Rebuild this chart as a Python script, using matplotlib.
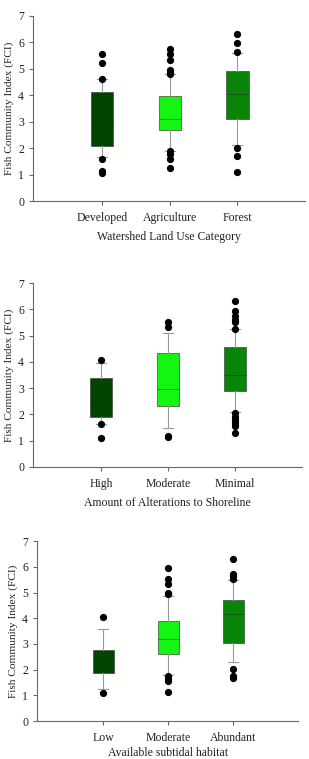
import matplotlib.pyplot as plt

plt.rcParams['font.family'] = ['Liberation Serif', 'DejaVu Serif']

# panel 1: watershed land use
land_cats = ['Developed', 'Agriculture', 'Forest']
land_q1 = [2.09, 2.69, 3.11]
land_med = [3.03, 3.10, 4.05]
land_q3 = [4.14, 3.96, 4.92]
land_wlo = [1.66, 1.90, 2.14]
land_whi = [4.60, 4.80, 5.59]
land_fliers = [
    [5.55, 5.21, 4.60, 1.58, 1.13, 1.07],
    [5.74, 5.55, 5.33, 4.96, 4.86, 4.79, 1.90, 1.78, 1.61, 1.26],
    [6.32, 5.96, 5.62, 1.99, 1.70, 1.11],
]

# panel 2: shoreline alterations
shore_cats = ['High', 'Moderate', 'Minimal']
shore_q1 = [1.91, 2.32, 2.89]
shore_med = [2.35, 2.98, 3.50]
shore_q3 = [3.37, 4.33, 4.58]
shore_wlo = [1.63, 1.46, 2.09]
shore_whi = [3.94, 5.09, 5.25]
shore_fliers = [
    [4.07, 1.62, 1.10],
    [5.53, 5.32, 1.15, 1.18],
    [6.30, 5.95, 5.73, 5.60, 5.50, 5.25, 2.04, 1.91, 1.78, 1.65, 1.56, 1.30],
]

# panel 3: subtidal habitat
hab_cats = ['Low', 'Moderate', 'Abundant']
hab_q1 = [1.88, 2.59, 3.02]
hab_med = [2.40, 3.18, 4.15]
hab_q3 = [2.75, 3.89, 4.70]
hab_wlo = [1.26, 1.78, 2.30]
hab_whi = [3.59, 4.86, 5.47]
hab_fliers = [
    [4.06, 1.08],
    [5.97, 5.54, 5.32, 4.99, 4.93, 1.75, 1.62, 1.56, 1.13],
    [6.32, 5.73, 5.64, 5.51, 2.04, 1.75, 1.69],
]

colors = ['#004400', '#14f514', '#088508']
medcols = ['#1c2a1c', '#2f6a2f', '#1f4a1f']

fig = plt.figure(figsize=(3.09, 7.59), dpi=100)

panels = [
    ([0.107, 0.735, 0.880, 0.244], land_cats, land_q1, land_med, land_q3, land_wlo, land_whi, land_fliers,
     'Watershed Land Use Category', 5),
    ([0.107, 0.385, 0.870, 0.242], shore_cats, shore_q1, shore_med, shore_q3, shore_wlo, shore_whi, shore_fliers,
     'Amount of Alterations to Shoreline', 5),
    ([0.120, 0.050, 0.845, 0.237], hab_cats, hab_q1, hab_med, hab_q3, hab_wlo, hab_whi, hab_fliers,
     'Available subtidal habitat', 2),
]

for rect, cats, q1, med, q3, wlo, whi, fl, xlab, lpad in panels:
    ax = fig.add_axes(rect)
    stats = []
    for i in range(len(cats)):
        stats.append({'q1': q1[i], 'med': med[i], 'q3': q3[i],
                      'whislo': wlo[i], 'whishi': whi[i], 'fliers': fl[i]})
    bp = ax.bxp(stats, positions=[1, 2, 3], widths=0.33, capwidths=0.15,
                patch_artist=True,
                whiskerprops=dict(color='#999999', lw=0.8),
                capprops=dict(color='#999999', lw=0.8),
                medianprops=dict(color='#2a2a2a', lw=0.6),
                flierprops=dict(marker='o', markerfacecolor='black',
                                markeredgecolor='black', markersize=4.2))
    for patch, c in zip(bp['boxes'], colors):
        patch.set_facecolor(c)
        patch.set_edgecolor('#3c4a3c')
        patch.set_linewidth(0.5)
    for m, c in zip(bp['medians'], medcols):
        m.set_color(c)
    ax.set_xlim(-0.02, 4.0)
    ax.set_ylim(0, 7)
    ax.set_yticks(range(0, 8))
    ax.set_xticks([1, 2, 3])
    ax.set_xticklabels(cats)
    for s in ['top', 'right']:
        ax.spines[s].set_visible(False)
    for s in ['left', 'bottom']:
        ax.spines[s].set_color('#666666')
        ax.spines[s].set_linewidth(0.8)
    ax.tick_params(axis='both', colors='#666666', labelcolor='#222222',
                   labelsize=8.5, length=3, width=0.8)
    ax.tick_params(axis='x', pad=5)
    ax.set_ylabel('Fish Community Index (FCI)', fontsize=8.2, color='#222222', labelpad=3)
    ax.set_xlabel(xlab, fontsize=8.5, color='#222222', labelpad=lpad)

fig.savefig('out.png', dpi=100)
